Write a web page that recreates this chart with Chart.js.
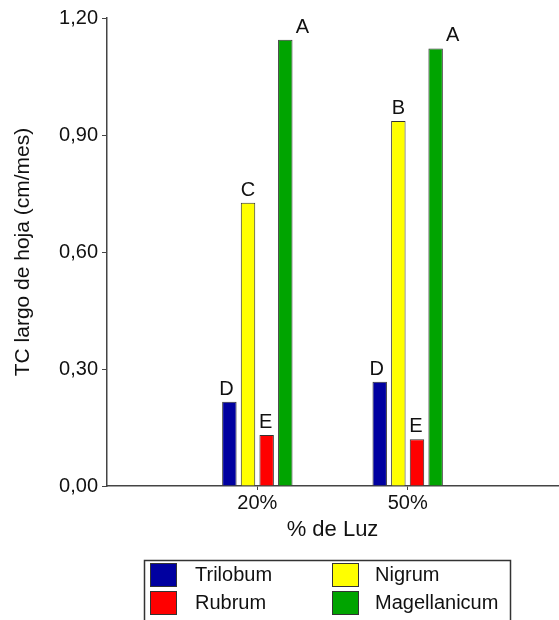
<!DOCTYPE html>
<html><head><meta charset="utf-8">
<script src="https://cdn.jsdelivr.net/npm/chart.js@4"></script>
<style>html,body{margin:0;padding:0;background:#fff;} #wrap{width:559px;height:620px;position:relative;}</style>
</head><body><div id="wrap"><canvas id="c"></canvas></div>
<script>
// ---- data ----
const categories = ['20%', '50%'];
const seriesNames = ['Trilobum', 'Nigrum', 'Rubrum', 'Magellanicum'];
const trilobum = [0.216, 0.267];
const nigrum = [0.726, 0.936];
const rubrum = [0.131, 0.120];
const magellanicum = [1.144, 1.122];
const trilobumLetters = ['D', 'D'];
const nigrumLetters = ['C', 'B'];
const rubrumLetters = ['E', 'E'];
const magellanicumLetters = ['A', 'A'];
const yTickLabels = ['0,00', '0,30', '0,60', '0,90', '1,20'];
const yTitle = 'TC largo de hoja (cm/mes)';
const xTitle = '% de Luz';

// ---- styles ----
const colors = ['#0000A0', '#FFFF00', '#FF0000', '#00A400'];
const letterDx = [-3, 0, -1, 17];
const FONT = 'Arial, "Liberation Sans", sans-serif';
const AXIS = '#444444';

// padded category axis (empty slots at both ends, like the original)
const labels = [''].concat(categories, ['']);
const pad = arr => [null].concat(arr, [null]);
const valueSets = [trilobum, nigrum, rubrum, magellanicum];
const letterSets = [trilobumLetters, nigrumLetters, rubrumLetters, magellanicumLetters];

const datasets = seriesNames.map((name, i) => ({
  label: name,
  data: pad(valueSets[i]),
  letters: pad(letterSets[i]),
  letterDx: letterDx[i],
  backgroundColor: colors[i],
  borderColor: '#333333',
  borderWidth: 1,
  categoryPercentage: 0.496,
  barPercentage: 0.775
}));

const letterPlugin = {
  id: 'letters',
  afterDatasetsDraw(chart) {
    const ctx = chart.ctx;
    ctx.save();
    ctx.font = '20px ' + FONT;
    ctx.fillStyle = '#111';
    ctx.textAlign = 'center';
    ctx.textBaseline = 'alphabetic';
    chart.data.datasets.forEach((ds, i) => {
      const meta = chart.getDatasetMeta(i);
      meta.data.forEach((el, j) => {
        const l = ds.letters[j];
        if (!l || ds.data[j] == null) return;
        ctx.fillText(l, el.x + ds.letterDx, el.y - 7);
      });
    });
    ctx.restore();
  }
};

const legendPlugin = {
  id: 'boxLegend',
  afterDraw(chart) {
    const ctx = chart.ctx;
    ctx.save();
    ctx.strokeStyle = '#333';
    ctx.lineWidth = 1.5;
    ctx.strokeRect(144.5, 560.5, 366, 80);
    const colX = [150, 332];
    const textX = [195, 375];
    const rowY = [563, 591];
    ctx.font = '20px ' + FONT;
    ctx.textBaseline = 'middle';
    ctx.textAlign = 'left';
    chart.data.datasets.forEach((ds, i) => {
      const c = i % 2, r = Math.floor(i / 2);
      ctx.fillStyle = ds.backgroundColor;
      ctx.fillRect(colX[c], rowY[r], 26, 23);
      ctx.lineWidth = 1;
      ctx.strokeStyle = '#333';
      ctx.strokeRect(colX[c] + 0.5, rowY[r] + 0.5, 26, 23);
      ctx.fillStyle = '#111';
      ctx.fillText(ds.label, textX[c], rowY[r] + 12);
    });
    ctx.restore();
  }
};

new Chart(document.getElementById('c'), {
  type: 'bar',
  data: { labels: labels, datasets: datasets },
  plugins: [letterPlugin, legendPlugin],
  options: {
    responsive: true,
    maintainAspectRatio: false,
    animation: false,
    layout: { padding: { top: 18, left: 0, right: 0, bottom: 0 } },
    plugins: { legend: { display: false }, tooltip: { enabled: false } },
    scales: {
      x: {
        type: 'category',
        offset: false,
        grid: {
          offset: false,
          drawOnChartArea: false,
          drawTicks: true,
          tickLength: 4,
          tickColor: ctx => (labels[ctx.index] ? AXIS : 'rgba(0,0,0,0)')
        },
        border: { display: true, color: AXIS, width: 1.5 },
        ticks: {
          padding: 1,
          autoSkip: false,
          maxRotation: 0,
          color: '#111',
          font: { family: FONT, size: 20, lineHeight: 1.2 }
        },
        title: {
          display: true,
          text: xTitle,
          color: '#111',
          font: { family: FONT, size: 22 },
          padding: { top: 0, bottom: 77 }
        },
        afterFit(scale) { scale.height = 134; }
      },
      y: {
        min: 0,
        max: 1.2,
        grid: { drawOnChartArea: false, drawTicks: true, tickLength: 5, tickColor: AXIS },
        border: { display: true, color: AXIS, width: 1.5 },
        ticks: {
          stepSize: 0.3,
          padding: 4,
          color: '#111',
          font: { family: FONT, size: 20 },
          callback: (v, i) => yTickLabels[i]
        },
        title: {
          display: true,
          text: yTitle,
          color: '#111',
          font: { family: FONT, size: 21 },
          padding: { top: 11, bottom: 0 }
        },
        afterFit(scale) { scale.width = 107; }
      }
    }
  }
});
</script>
</body></html>
